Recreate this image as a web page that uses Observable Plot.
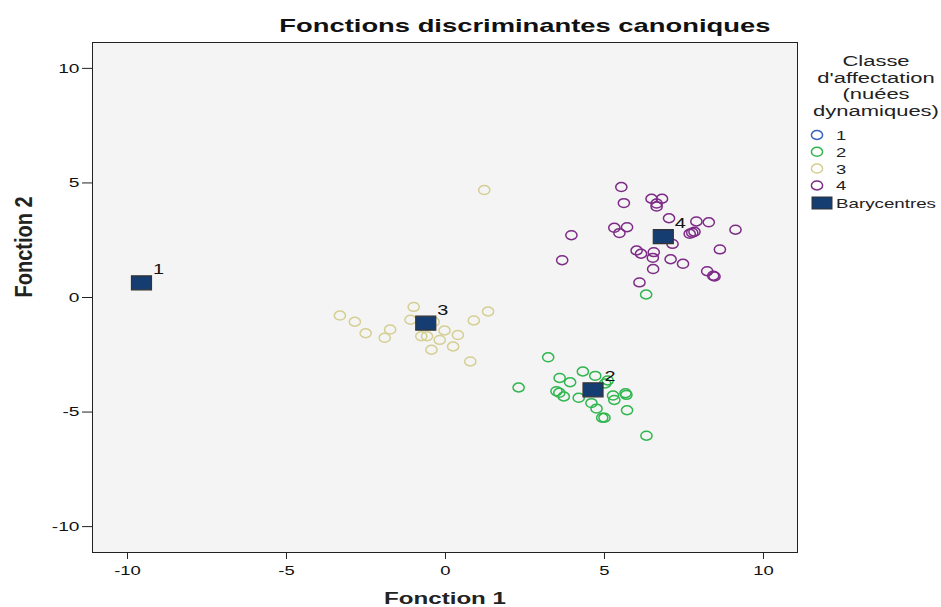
<!DOCTYPE html>
<html><head><meta charset="utf-8">
<script src="https://cdn.jsdelivr.net/npm/d3@7"></script>
<script src="https://cdn.jsdelivr.net/npm/@observablehq/plot@0.6"></script>
<style>
body{margin:0;background:#fff;font-family:"Liberation Sans",Arial,sans-serif;}
#wrap{position:relative;width:941px;height:607px;overflow:hidden;}
#chart{position:absolute;left:0;top:0;}
#title{position:absolute;left:0;top:16px;width:729px;text-align:center;font-weight:bold;font-size:19px;line-height:19px;color:#111;transform:scaleX(1.44);transform-origin:0 0;white-space:nowrap;}
#legend{position:absolute;left:800px;top:40px;}
</style></head><body>
<div id="wrap"><div id="chart"></div><div id="title"></div><div id="legend"></div></div>
<script>
const titleText = "Fonctions discriminantes canoniques";
const xLabel = "Fonction 1";
const yLabel = "Fonction 2";
const legendTitle = ["Classe", "d'affectation", "(nuées", "dynamiques)"];
const centroidName = "Barycentres";

const classes = ["1", "2", "3", "4"];
const classColors = ["#3a62c4", "#2fb64f", "#d5cf93", "#7d2b86"];

const cls1X = [-9.56];
const cls1Y = [0.64];
const cls2X = [3.23,4.32,4.71,3.59,3.92,5.10,5.02,3.49,3.58,3.72,4.19,5.27,5.31,5.66,5.69,4.59,4.75,5.71,4.93,5.00,6.32,2.30,6.31];
const cls2Y = [-2.61,-3.23,-3.42,-3.51,-3.70,-3.62,-3.75,-4.09,-4.16,-4.32,-4.38,-4.28,-4.47,-4.18,-4.25,-4.61,-4.85,-4.92,-5.25,-5.25,-6.03,-3.93,0.13];
const cls3X = [1.22,-3.32,-2.85,-2.51,-1.91,-1.74,-1.00,-1.10,-0.37,-0.76,-0.58,-0.03,-0.18,0.39,-0.44,0.24,0.89,1.34,0.78];
const cls3Y = [4.69,-0.79,-1.06,-1.56,-1.76,-1.40,-0.41,-0.97,-1.06,-1.69,-1.69,-1.44,-1.85,-1.64,-2.28,-2.14,-1.00,-0.61,-2.79];
const cls4X = [5.53,5.61,6.48,6.81,6.64,6.64,7.03,7.89,8.28,9.12,7.68,7.76,7.83,5.31,5.71,5.47,3.96,7.14,8.63,6.01,6.15,6.55,6.52,7.08,7.47,3.67,6.53,8.23,8.46,8.42,6.10];
const cls4Y = [4.82,4.12,4.31,4.31,3.97,4.10,3.46,3.32,3.28,2.96,2.78,2.83,2.87,3.04,3.07,2.81,2.72,2.34,2.10,2.05,1.91,1.98,1.73,1.67,1.47,1.63,1.24,1.15,0.92,0.95,0.66];

const centroidLabels = ["1", "2", "3", "4"];
const centroidX = [-9.56, 4.64, -0.62, 6.85];
const centroidY = [0.64, -4.03, -1.12, 2.66];

const xTicks = [-10, -5, 0, 5, 10];
const yTicks = [-10, -5, 0, 5, 10];

const navy = "#153d72";

const ellipseSym = {draw(ctx, size) {
  const r = Math.sqrt(size / Math.PI), rx = r, ry = r * 0.8, k = 0.5523;
  ctx.moveTo(rx, 0);
  ctx.bezierCurveTo(rx, ry * k, rx * k, ry, 0, ry);
  ctx.bezierCurveTo(-rx * k, ry, -rx, ry * k, -rx, 0);
  ctx.bezierCurveTo(-rx, -ry * k, -rx * k, -ry, 0, -ry);
  ctx.bezierCurveTo(rx * k, -ry, rx, -ry * k, rx, 0);
  ctx.closePath();
}};
const rectSym = {draw(ctx, size) {
  const r = Math.sqrt(size / Math.PI), w = r * 2.5, h = r * 1.75;
  ctx.rect(-w / 2, -h / 2, w, h);
}};

const xs = [cls1X, cls2X, cls3X, cls4X], ys = [cls1Y, cls2Y, cls3Y, cls4Y];
const pts = [];
classes.forEach((c, i) => xs[i].forEach((x, j) => pts.push({x, y: ys[i][j], cls: c})));
const cents = centroidLabels.map((l, i) => ({label: l, x: centroidX[i], y: centroidY[i]}));

const chart = Plot.plot({
  width: 941, height: 607,
  marginLeft: 92, marginRight: 144, marginTop: 42, marginBottom: 55,
  style: {fontFamily: "'Liberation Sans', Arial, sans-serif", background: "transparent", color: "#111"},
  x: {domain: [-11.1, 11.07]},
  y: {domain: [-11.13, 11.13]},
  color: {domain: classes, range: classColors},
  marks: [
    Plot.frame({fill: "#f4f4f4", stroke: null}),
    Plot.axisX({ticks: xTicks, tickSize: 7, tickPadding: 6, tickFormat: d => String(d), fontSize: 13, label: null, stroke: "#222", className: "tk"}),
    Plot.axisY({ticks: yTicks, tickSize: 10, tickPadding: 3, tickFormat: d => String(d), fontSize: 13.5, label: null, stroke: "#222", className: "tk"}),
    Plot.dot(pts, {x: "x", y: "y", stroke: "cls", symbol: ellipseSym, r: 5.6, strokeWidth: 1.5}),
    Plot.dot(cents, {x: "x", y: "y", symbol: rectSym, r: 8, fill: navy, stroke: "#333", strokeWidth: 1.2}),
    Plot.text(cents, {x: "x", y: "y", text: "label", dx: 17, dy: -13, fontSize: 14, fill: "#111"}),
    Plot.frame({stroke: "#222", strokeWidth: 1}),
    Plot.text([xLabel], {frameAnchor: "bottom", dy: 51, fontSize: 17, fontWeight: "bold", fill: "#222"}),
    Plot.text([yLabel], {frameAnchor: "left", dx: -68, rotate: -90, fontSize: 20, fontWeight: "bold", fill: "#222", className: "ylab"})
  ]
});
chart.querySelectorAll("text").forEach(t => {
  const tr = t.getAttribute("transform") || "";
  if (t.closest(".ylab")) t.setAttribute("transform", tr + " scale(1,1.2)");
  else t.setAttribute("transform", tr + " scale(1.42,1)");
});
document.getElementById("chart").appendChild(chart);
document.getElementById("title").textContent = titleText;

// legend
const lg = d3.select("#legend").append("svg").attr("width", 141).attr("height", 180)
  .style("font-family", "'Liberation Sans', Arial, sans-serif");
legendTitle.forEach((s, i) => {
  lg.append("text").attr("transform", `translate(76,${26 + i * 16.7}) scale(1.42,1)`)
    .attr("text-anchor", "middle").attr("font-size", 15.5).attr("fill", "#222").text(s);
});
classes.forEach((c, i) => {
  const cy = 95 + i * 16.8;
  lg.append("ellipse").attr("cx", 17).attr("cy", cy).attr("rx", 5.6).attr("ry", 4.5)
    .attr("fill", "none").attr("stroke", classColors[i]).attr("stroke-width", 1.5);
  lg.append("text").attr("transform", `translate(36,${cy + 5}) scale(1.42,1)`)
    .attr("font-size", 13).attr("fill", "#222").text(c);
});
lg.append("rect").attr("x", 12).attr("y", 157).attr("width", 20).attr("height", 12)
  .attr("fill", navy).attr("stroke", "#333").attr("stroke-width", 1);
lg.append("text").attr("transform", `translate(36,168) scale(1.42,1)`)
  .attr("font-size", 13.2).attr("fill", "#222").text(centroidName);
</script>
</body></html>
